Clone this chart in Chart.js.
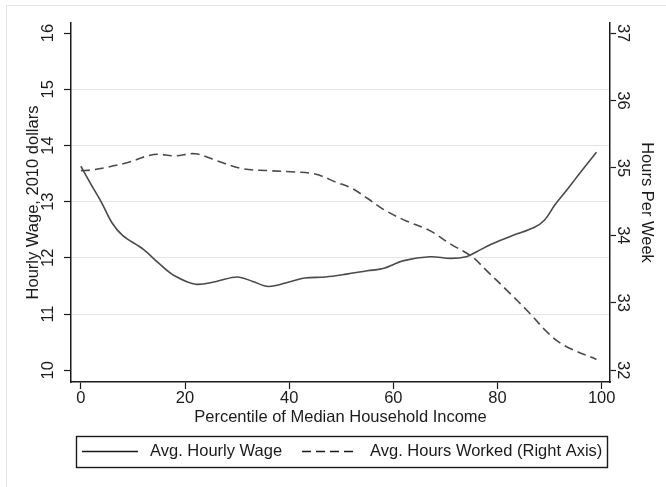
<!DOCTYPE html>
<html>
<head>
<meta charset="utf-8">
<title>Hourly wage and hours worked by income percentile</title>
<style>
  html, body { margin: 0; padding: 0; background: #fff; }
  #wrap { width: 666px; height: 487px; }
</style>
</head>
<body>
<div id="wrap"><canvas id="wageHours" width="666" height="487"></canvas></div>
<script src="https://cdn.jsdelivr.net/npm/chart.js@4.4.1/dist/chart.umd.min.js"></script>
<script>
// percentile of median household income (x) and the two smoothed series
const wagePct = [0, 2, 4, 6, 8, 12, 15, 18, 22, 26, 30, 33, 36, 40, 43, 47, 51, 55, 58, 62, 67, 71, 74, 76, 79, 83, 87, 89, 91, 93, 95, 97, 99];
const wageValues = [13.63, 13.30, 12.98, 12.62, 12.40, 12.15, 11.90, 11.68, 11.53, 11.58, 11.66, 11.58, 11.49, 11.57, 11.64, 11.66, 11.71, 11.77, 11.81, 11.95, 12.02, 11.99, 12.02, 12.11, 12.25, 12.40, 12.54, 12.67, 12.94, 13.17, 13.41, 13.65, 13.88];

const hoursPct = [0, 2, 5, 9, 14, 18, 22, 26, 31, 36, 41, 45, 49, 52, 55, 58, 62, 67, 71, 75, 78, 82, 86, 90, 93, 99];
const hoursValues = [34.96, 34.97, 35.01, 35.08, 35.20, 35.18, 35.21, 35.11, 34.99, 34.96, 34.94, 34.91, 34.79, 34.70, 34.55, 34.39, 34.23, 34.07, 33.87, 33.69, 33.47, 33.17, 32.86, 32.53, 32.36, 32.16];

// tick labels
const pctTicks = [0, 20, 40, 60, 80, 100];
const wageTicks = [10, 11, 12, 13, 14, 15, 16];
const hoursTicks = [32, 33, 34, 35, 36, 37];

const ink = '#1b1b1b';
const lineGray = '#4a4a4a';
const fontFamily = '"Liberation Sans", Arial, sans-serif';
const fontSize = 16.5;

Chart.defaults.font.family = fontFamily;
Chart.defaults.font.size = fontSize;
Chart.defaults.color = ink;

const setTicks = values => scale => { scale.ticks = values.map(v => ({ value: v })); };

// y tick labels are drawn turned on their side, like the Stata original
const sideTicks = {
  id: 'sideTicks',
  afterDraw(chart) {
    const c = chart.ctx;
    const wage = chart.scales.wage;
    const hours = chart.scales.hours;
    c.save();
    c.font = fontSize + 'px ' + fontFamily;
    c.fillStyle = ink;
    c.textAlign = 'center';
    c.textBaseline = 'middle';
    wage.ticks.forEach(t => {
      c.save();
      c.translate(wage.right - 23, wage.getPixelForValue(t.value));
      c.rotate(-Math.PI / 2);
      c.fillText(String(t.value), 0, 0);
      c.restore();
    });
    hours.ticks.forEach(t => {
      c.save();
      c.translate(hours.left + 13, hours.getPixelForValue(t.value));
      c.rotate(Math.PI / 2);
      c.fillText(String(t.value), 0, 0);
      c.restore();
    });
    c.restore();
  }
};

// boxed legend under the x axis title, plus the faint outer frame
const boxedLegend = {
  id: 'boxedLegend',
  afterDraw(chart) {
    const c = chart.ctx;
    const area = chart.chartArea;
    const sets = chart.data.datasets;
    const left = area.left + 5, right = area.right - 3;
    const top = 436, bottom = 467, mid = (top + bottom) / 2;

    c.save();
    c.strokeStyle = '#e4e4e4';
    c.lineWidth = 1;
    c.strokeRect(6.5, 5.5, 700, 520);

    c.strokeStyle = ink;
    c.lineWidth = 1.4;
    c.strokeRect(left + 0.5, top + 0.5, right - left, bottom - top);

    c.font = fontSize + 'px ' + fontFamily;
    c.fillStyle = ink;
    c.textBaseline = 'middle';
    const items = [
      { x0: left + 6, x1: left + 62, tx: left + 74 },
      { x0: left + 226, x1: left + 281, tx: left + 294 }
    ];
    items.forEach((it, i) => {
      c.beginPath();
      c.setLineDash(sets[i].borderDash || []);
      c.lineWidth = 1.3;
      c.moveTo(it.x0, mid);
      c.lineTo(it.x1, mid);
      c.stroke();
      c.setLineDash([]);
      c.fillText(sets[i].label, it.tx, mid);
    });
    c.restore();
  }
};

const ctx = document.getElementById('wageHours').getContext('2d');

new Chart(ctx, {
  type: 'line',
  data: {
    datasets: [
      {
        label: 'Avg. Hourly Wage',
        data: wagePct.map((p, i) => ({ x: p, y: wageValues[i] })),
        yAxisID: 'wage',
        borderColor: lineGray,
        borderWidth: 1.6,
        pointRadius: 0,
        tension: 0.35,
        fill: false
      },
      {
        label: 'Avg. Hours Worked (Right Axis)',
        data: hoursPct.map((p, i) => ({ x: p, y: hoursValues[i] })),
        yAxisID: 'hours',
        borderColor: lineGray,
        borderWidth: 1.6,
        borderDash: [9, 5],
        pointRadius: 0,
        tension: 0.35,
        fill: false
      }
    ]
  },
  options: {
    responsive: false,
    animation: false,
    devicePixelRatio: 1,
    layout: { padding: { top: 23, left: 0, right: 0, bottom: 0 } },
    plugins: {
      legend: { display: false },
      tooltip: { enabled: false }
    },
    scales: {
      x: {
        type: 'linear',
        position: 'bottom',
        min: -1.9,
        max: 101.6,
        afterBuildTicks: setTicks(pctTicks),
        afterFit: s => { s.height = 105; },
        grid: { drawOnChartArea: false, tickLength: 7, tickColor: ink, tickWidth: 1.2 },
        border: { display: true, color: ink, width: 1.5 },
        ticks: { padding: 0, color: ink, maxRotation: 0, autoSkip: false },
        title: {
          display: true,
          text: 'Percentile of Median Household Income',
          color: ink,
          padding: { top: 0, bottom: 60 }
        }
      },
      wage: {
        type: 'linear',
        position: 'left',
        min: 9.79,
        max: 16.18,
        afterBuildTicks: setTicks(wageTicks),
        afterFit: s => { s.width = 71; },
        grid: {
          color: c => (c.tick && (c.tick.value === 10 || c.tick.value === 16)) ? 'rgba(0,0,0,0)' : '#e6e6e6',
          lineWidth: 1,
          tickLength: 7,
          tickColor: ink,
          tickWidth: 1.2
        },
        border: { display: true, color: ink, width: 1.5 },
        ticks: { display: false },
        title: {
          display: true,
          text: 'Hourly Wage, 2010 dollars',
          color: ink,
          padding: { top: 24, bottom: 0 }
        }
      },
      hours: {
        type: 'linear',
        position: 'right',
        min: 31.825,
        max: 37.15,
        afterBuildTicks: setTicks(hoursTicks),
        afterFit: s => { s.width = 56; },
        grid: { drawOnChartArea: false, tickLength: 6, tickColor: ink, tickWidth: 1.2 },
        border: { display: true, color: ink, width: 1.5 },
        ticks: { display: false },
        title: {
          display: true,
          text: 'Hours Per Week',
          color: ink,
          padding: { top: 10, bottom: 0 }
        }
      }
    }
  },
  plugins: [sideTicks, boxedLegend]
});
</script>
</body>
</html>
